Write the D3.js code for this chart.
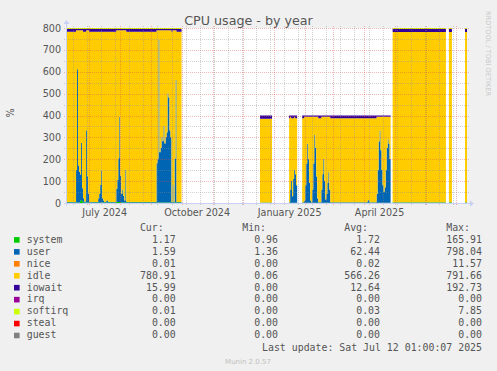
<!DOCTYPE html>
<html>
<head>
<meta charset="utf-8">
<script src="https://cdn.jsdelivr.net/npm/d3@7"></script>
<style>
html, body { margin: 0; padding: 0; background: #f0f0f0; }
svg { display: block; }
text { font-family: "DejaVu Sans", sans-serif; fill: #555; }
.mono { font-family: "DejaVu Sans Mono", monospace; }
</style>
</head>
<body>
<svg id="chart" width="497" height="371"></svg>
<script>
// samples, null rows mark gaps with no data
var dates = [
  '2024-06-09', '2024-06-17', '2024-06-18', '2024-06-19', '2024-06-20', '2024-06-21', '2024-06-22', '2024-06-23',
  '2024-06-24', '2024-06-25', '2024-06-26', '2024-06-28', '2024-06-29', '2024-06-30', '2024-07-01', '2024-07-10',
  '2024-07-11', '2024-07-12', '2024-07-13', '2024-07-14', '2024-07-15', '2024-07-16', '2024-07-18', '2024-07-20',
  '2024-07-28', '2024-07-29', '2024-07-30', '2024-07-31', '2024-08-01', '2024-08-02', '2024-08-03', '2024-08-04',
  '2024-08-05', '2024-08-06', '2024-08-07', '2024-09-06', '2024-09-07', '2024-09-08', '2024-09-09', '2024-09-10',
  '2024-09-11', '2024-09-12', '2024-09-13', '2024-09-14', '2024-09-15', '2024-09-16', '2024-09-17', '2024-09-18',
  '2024-09-19', '2024-09-20', '2024-09-21', '2024-09-22', '2024-09-23', '2024-09-24', '2024-09-25', '2024-09-26',
  '2024-10-01', '2024-10-02',
  '2024-12-18', '2024-12-30', '2024-12-31',
  '2025-01-16', '2025-01-17', '2025-01-18', '2025-01-19', '2025-01-20', '2025-01-21', '2025-01-22', '2025-01-23',
  '2025-01-24', '2025-01-25',
  '2025-01-29', '2025-01-31', '2025-02-01', '2025-02-02', '2025-02-03', '2025-02-04', '2025-02-05', '2025-02-06',
  '2025-02-07', '2025-02-08', '2025-02-09', '2025-02-10', '2025-02-11', '2025-02-12', '2025-02-13', '2025-02-14',
  '2025-02-17', '2025-02-18', '2025-02-19', '2025-02-20', '2025-02-21', '2025-02-22', '2025-02-23', '2025-02-24',
  '2025-02-25', '2025-02-26', '2025-04-04', '2025-04-06', '2025-04-13', '2025-04-14', '2025-04-15', '2025-04-16',
  '2025-04-17', '2025-04-18', '2025-04-19', '2025-04-20', '2025-04-21', '2025-04-22', '2025-04-23', '2025-04-24',
  '2025-04-25', '2025-04-26', '2025-04-27', '2025-04-28',
  '2025-04-29', '2025-06-21', '2025-06-22',
  '2025-06-24', '2025-06-27', '2025-06-28',
  '2025-07-10', '2025-07-12'
];
var systemVals = [
  2, 2, 2, 2, 2, 2, 10, 14,
  8, 2, 2, 2, 2, 2, 2, 2,
  2, 2, 2, 2, 2, 2, 2, 2,
  5, 5, 5, 5, 5, 2, 2, 2,
  2, 2, 2, 2, 2, 2, 2, 2,
  2, 2, 2, 2, 2, 2, 2, 2,
  2, 2, 2, 2, 2, 2, 2, 2,
  2, null,
  1, 1, null,
  1, 1, 1, 1, 1, 1, 1, 1,
  1, null,
  1, 1, 1, 1, 1, 1, 1, 1,
  1, 1, 1, 1, 1, 1, 1, 1,
  1, 1, 1, 1, 1, 1, 1, 1,
  1, 1, 1, 1, 1, 1, 1, 1,
  1, 1, 1, 1, 1, 1, 1, 1,
  1, 1, 1, null,
  2, 2, null,
  2, 2, null,
  2, 2
];
var userVals = [
  3, 3, 150, 610, 170, 140, 120, 260,
  60, 20, 5, 330, 120, 40, 3, 20,
  40, 80, 145, 20, 10, 3, 10, 3,
  60, 100, 200, 390, 120, 40, 60, 30,
  10, 150, 3, 180, 200, 745, 230, 250,
  300, 280, 350, 270, 300, 320, 500, 480,
  330, 300, 3, 80, 3, 200, 560, 3,
  3, null,
  1, 1, null,
  2, 60, 100, 30, 110, 150, 130, 80,
  80, null,
  2, 10, 80, 180, 270, 200, 90, 10,
  2, 60, 180, 310, 250, 120, 20, 2,
  60, 130, 200, 100, 15, 40, 90, 140,
  60, 2, 12, 2, 40, 150, 280, 330,
  240, 150, 80, 50, 70, 150, 250, 290,
  270, 200, 200, null,
  2, 2, null,
  2, 2, null,
  2, 2
];
var idleVals = [
  778, 778, 638, 178, 618, 648, 660, 516,
  722, 761, 776, 458, 668, 748, 778, 761,
  741, 701, 636, 761, 771, 778, 771, 778,
  725, 685, 585, 395, 665, 748, 728, 758,
  778, 638, 778, 608, 588, 43, 558, 538,
  488, 508, 438, 518, 488, 468, 288, 308,
  458, 488, 778, 708, 785, 588, 228, 778,
  778, null,
  383, 383, null,
  385, 333, 287, 357, 277, 243, 257, 307,
  307, null,
  385, 383, 313, 213, 123, 193, 303, 383,
  391, 333, 213, 83, 143, 273, 373, 385,
  333, 263, 193, 293, 378, 353, 303, 253,
  333, 385, 375, 385, 353, 243, 113, 63,
  153, 243, 313, 343, 323, 243, 143, 103,
  123, 193, 193, null,
  778, 778, null,
  778, 778, null,
  778, 778
];
var iowaitVals = [
  13, 13, 6, 6, 6, 6, 6, 6,
  6, 13, 13, 6, 6, 6, 13, 13,
  13, 13, 13, 13, 13, 13, 13, 13,
  6, 6, 6, 6, 6, 6, 6, 6,
  6, 6, 13, 6, 6, 6, 6, 6,
  6, 6, 6, 6, 6, 6, 6, 6,
  6, 6, 13, 6, 6, 6, 6, 13,
  13, null,
  15, 15, null,
  12, 6, 12, 12, 12, 6, 12, 12,
  12, null,
  12, 6, 6, 6, 6, 6, 6, 6,
  6, 6, 6, 6, 6, 6, 6, 12,
  6, 6, 6, 6, 6, 6, 6, 6,
  6, 12, 12, 12, 6, 6, 6, 6,
  6, 6, 6, 6, 6, 6, 6, 6,
  6, 6, 6, null,
  14, 14, null,
  14, 14, null,
  14, 14
];
var softirqVals = [
  4, 4, 4, 4, 4, 4, 4, 4,
  4, 4, 4, 4, 4, 4, 4, 4,
  4, 4, 4, 4, 4, 4, 4, 4,
  4, 4, 4, 4, 4, 4, 4, 4,
  4, 4, 4, 4, 4, 4, 4, 4,
  4, 4, 4, 4, 4, 4, 4, 4,
  4, 4, 4, 4, 4, 4, 4, 4,
  4, null,
  0, 0, null,
  0, 0, 0, 0, 0, 0, 0, 0,
  0, null,
  0, 0, 0, 0, 0, 0, 0, 0,
  0, 0, 0, 0, 0, 0, 0, 0,
  0, 0, 0, 0, 0, 0, 0, 0,
  0, 0, 0, 0, 0, 0, 0, 0,
  0, 0, 0, 0, 0, 0, 0, 0,
  0, 0, 0, null,
  4, 4, null,
  4, 4, null,
  4, 4
];

var yTicks = [0, 100, 200, 300, 400, 500, 600, 700, 800];
var xLabelMonths = ['2024-07', '2024-10', '2025-01', '2025-04'];
var xLabels = ['July 2024', 'October 2024', 'January 2025', 'April 2025'];

var legendNames = ['system', 'user', 'nice', 'idle', 'iowait', 'irq', 'softirq', 'steal', 'guest'];
var legendColors = ['#00cc00', '#0066b3', '#ff8000', '#ffcc00', '#330099', '#990099', '#ccff00', '#ff0000', '#808080'];
var curVals = ['1.17', '1.59', '0.01', '780.91', '15.99', '0.00', '0.01', '0.00', '0.00'];
var minVals = ['0.96', '1.36', '0.00', '0.06', '0.00', '0.00', '0.00', '0.00', '0.00'];
var avgVals = ['1.72', '62.44', '0.02', '566.26', '12.64', '0.00', '0.03', '0.00', '0.00'];
var maxVals = ['165.91', '798.04', '11.57', '791.66', '192.73', '0.00', '7.85', '0.00', '0.00'];

var parseDay = d3.timeParse('%Y-%m-%d');
var parseMonth = d3.timeParse('%Y-%m');

var rows = dates.map(function(d, i) {
  return {
    date: parseDay(d),
    system: systemVals[i],
    user: userVals[i],
    idle: idleVals[i],
    iowait: iowaitVals[i],
    softirq: softirqVals[i]
  };
});

var keys = ['system', 'user', 'idle', 'iowait', 'softirq'];
var colorOf = {};
legendNames.forEach(function(n, i) { colorOf[n] = legendColors[i]; });

var start = parseDay('2024-06-09');
var end = parseDay('2025-07-12');

var x = d3.scaleTime().domain([start, end]).range([67, 467]);
var y = d3.scaleLinear().domain([0, 800]).range([203, 28]);

var svg = d3.select('#chart');

svg.append('rect').attr('x', 67).attr('y', 28).attr('width', 400).attr('height', 175).attr('fill', '#fff');

var series = d3.stack().keys(keys).value(function(d, k) { return d[k] || 0; })(rows);

var area = d3.area()
  .curve(d3.curveStepAfter)
  .defined(function(d) { return d.data.idle !== null; })
  .x(function(d) { return x(d.data.date); })
  .y0(function(d) { return y(d[0]); })
  .y1(function(d) { return y(d[1]); });

svg.append('g').selectAll('path').data(series).enter().append('path')
  .attr('d', area)
  .attr('fill', function(s) { return colorOf[s.key]; });

// grid on top of the data, like rrdtool
var grid = svg.append('g').attr('shape-rendering', 'crispEdges');
var minorColor = 'rgba(140,140,140,0.4)';
var majorColor = 'rgba(224,80,80,0.4)';

d3.range(50, 800, 100).forEach(function(v) {
  grid.append('line').attr('x1', 64).attr('x2', 469)
    .attr('y1', Math.round(y(v)) + 0.5).attr('y2', Math.round(y(v)) + 0.5)
    .attr('stroke', minorColor).attr('stroke-dasharray', '1,1');
});
yTicks.forEach(function(v) {
  grid.append('line').attr('x1', 64).attr('x2', 469)
    .attr('y1', Math.round(y(v)) + 0.5).attr('y2', Math.round(y(v)) + 0.5)
    .attr('stroke', majorColor).attr('stroke-dasharray', '1,1');
});
d3.timeSaturday.range(start, end, 2).forEach(function(d) {
  var px = Math.round(x(d)) + 0.5;
  grid.append('line').attr('x1', px).attr('x2', px).attr('y1', 26).attr('y2', 206)
    .attr('stroke', minorColor).attr('stroke-dasharray', '1,1');
});
d3.timeMonth.range(start, end).forEach(function(d) {
  var px = Math.round(x(d)) + 0.5;
  grid.append('line').attr('x1', px).attr('x2', px).attr('y1', 26).attr('y2', 206)
    .attr('stroke', majorColor).attr('stroke-dasharray', '1,1');
});

// axes with arrows
var axisColor = '#c8d0f4';
svg.append('line').attr('x1', 64).attr('x2', 470).attr('y1', 203.5).attr('y2', 203.5)
  .attr('stroke', axisColor);
svg.append('path').attr('d', 'M470,200.5 L474,203.5 L470,206.5 Z').attr('fill', axisColor);
svg.append('line').attr('x1', 66.5).attr('x2', 66.5).attr('y1', 206).attr('y2', 24)
  .attr('stroke', axisColor);
svg.append('path').attr('d', 'M63.5,24 L66.5,20 L69.5,24 Z').attr('fill', axisColor);

// y tick labels
svg.append('g').selectAll('text').data(yTicks).enter().append('text')
  .attr('x', 61).attr('y', function(v) { return y(v) + 3.5; })
  .attr('text-anchor', 'end').attr('font-size', 9.6)
  .text(function(v) { return v; });

// x labels, centred on their month
svg.append('g').selectAll('text').data(xLabels).enter().append('text')
  .attr('x', function(t, i) {
    var m = parseMonth(xLabelMonths[i]);
    return (x(m) + x(d3.timeMonth.offset(m, 1))) / 2;
  })
  .attr('y', 216).attr('text-anchor', 'middle').attr('font-size', 9.6)
  .text(function(t) { return t; });

svg.append('text').attr('x', 248.5).attr('y', 24.5).attr('text-anchor', 'middle')
  .attr('font-size', 12.7).text('CPU usage - by year');

svg.append('text').attr('transform', 'translate(13.5,113) rotate(-90)')
  .attr('text-anchor', 'middle').attr('font-size', 9.6).text('%');

svg.append('text').attr('transform', 'translate(486,53.5) rotate(90)')
  .attr('text-anchor', 'middle').attr('font-size', 6.6).style('fill', '#c8c8c8')
  .text('RRDTOOL / TOBI OETIKER');

// legend
var legend = svg.append('g').attr('class', 'mono').attr('font-size', 9.9);
var colRight = [175.7, 278, 380, 482];
var heads = ['Cur:', 'Min:', 'Avg:', 'Max:'];
heads.forEach(function(h, i) {
  legend.append('text').attr('class', 'mono').attr('x', colRight[i] - 12).attr('y', 231.3)
    .attr('text-anchor', 'end').text(h);
});
legendNames.forEach(function(name, i) {
  var base = 242.7 + i * 11.95;
  legend.append('rect').attr('x', 14).attr('y', base - 5.6).attr('width', 5.6).attr('height', 5.6)
    .attr('fill', legendColors[i]);
  legend.append('text').attr('class', 'mono').attr('x', 26.7).attr('y', base).text(name);
  [curVals, minVals, avgVals, maxVals].forEach(function(col, j) {
    legend.append('text').attr('class', 'mono').attr('x', colRight[j]).attr('y', base)
      .attr('text-anchor', 'end').text(col[i]);
  });
});
legend.append('text').attr('class', 'mono').attr('x', 482).attr('y', 350.7)
  .attr('text-anchor', 'end').text('Last update: Sat Jul 12 01:00:07 2025');

svg.append('text').attr('x', 248).attr('y', 363.5).attr('text-anchor', 'middle')
  .attr('font-size', 7).style('fill', '#c0c0c0').text('Munin 2.0.57');
</script>
</body>
</html>
